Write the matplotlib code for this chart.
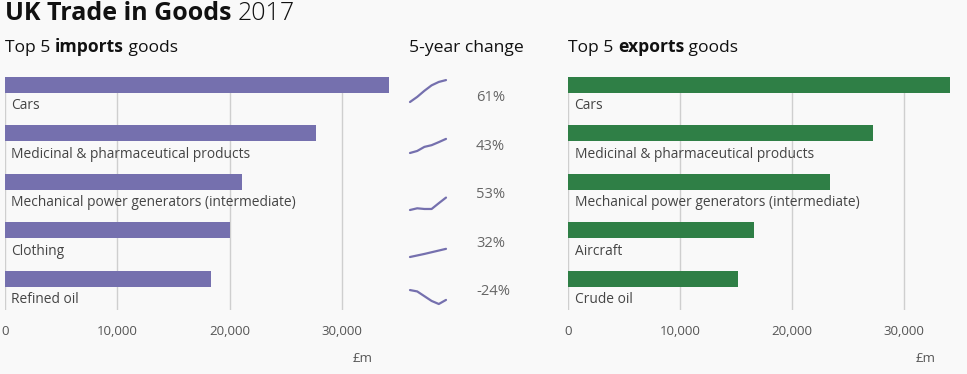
import matplotlib
matplotlib.use("Agg")
import matplotlib.pyplot as plt

# ---------------- data ----------------
import_goods = ["Cars", "Medicinal & pharmaceutical products",
                "Mechanical power generators (intermediate)", "Clothing", "Refined oil"]
import_values = [34150, 27650, 21100, 19990, 18330]

export_goods = ["Cars", "Medicinal & pharmaceutical products",
                "Mechanical power generators (intermediate)", "Aircraft", "Crude oil"]
export_values = [34050, 27230, 23370, 16580, 15180]

spark_years = [2012, 2013, 2014, 2015, 2016, 2017]
spark_cars = [21.2, 24.2, 27.8, 31.0, 33.0, 34.1]
spark_medicinal = [19.3, 20.5, 22.9, 23.9, 25.7, 27.6]
spark_mechanical = [13.8, 14.8, 14.4, 14.4, 17.8, 21.1]
spark_clothing = [15.1, 16.0, 16.9, 17.9, 18.9, 19.9]
spark_refined_oil = [24.1, 23.3, 20.5, 17.7, 15.9, 18.3]
sparklines = [spark_cars, spark_medicinal, spark_mechanical, spark_clothing, spark_refined_oil]
change_pct = [61, 43, 53, 32, -24]

x_ticks = [0, 10000, 20000, 30000]
x_tick_labels = ["0", "10,000", "20,000", "30,000"]

# ---------------- style ----------------
W, H = 967, 374
DPI = 100
BG = "#f9f9f9"
PURPLE = "#7570ae"
GREEN = "#2f7f46"
GRID = "#cfcfcf"
FONT = ["Open Sans", "DejaVu Sans"]
plt.rcParams["font.family"] = FONT

fig = plt.figure(figsize=(W / DPI, H / DPI), dpi=DPI, facecolor=BG)


def px_axes(x0, top, w, h):
    return fig.add_axes([x0 / W, 1 - (top + h) / H, w / W, h / H])


ROW = 48.5
BAR_TOP0 = 76.7
AX_BOTTOM = 310
row_top = -0.163
ylim_bottom = (AX_BOTTOM - BAR_TOP0) / ROW + row_top


def bar_panel(x0, px_per_k, goods, values, color):
    width_px = 35 * px_per_k
    ax = px_axes(x0, BAR_TOP0, width_px, AX_BOTTOM - BAR_TOP0)
    ax.set_facecolor("none")
    ypos = list(range(len(goods)))
    ax.barh(ypos, values, height=0.326, color=color, zorder=2)
    ax.set_xlim(0, 35000)
    ax.set_ylim(ylim_bottom, row_top)
    ax.set_xticks(x_ticks)
    ax.set_xticklabels(x_tick_labels)
    ax.set_yticks([])
    ax.grid(axis="x", color=GRID, linewidth=1, zorder=0)
    ax.set_axisbelow(True)
    for s in ax.spines.values():
        s.set_visible(False)
    ax.tick_params(axis="x", length=0, pad=10.5, labelsize=9.5, labelcolor="#555555")
    for y, name in zip(ypos, goods):
        ax.text(560, y + 0.44, name, va="center", ha="left", fontsize=9.9, color="#444444")
    return ax


bar_panel(5, 11.24, import_goods, import_values, PURPLE)
bar_panel(568.3, 11.2, export_goods, export_values, GREEN)

# £m unit labels
fig.text(373 / W, 1 - 358.5 / H, "£m", ha="right", va="center", fontsize=9.5, color="#555555")
fig.text(936 / W, 1 - 358.5 / H, "£m", ha="right", va="center", fontsize=9.5, color="#555555")

# sparklines
SPARK_K = 1.7  # px per £bn
spark_bottoms = [102, 153, 210, 257, 304]
for i, (vals, bottom) in enumerate(zip(sparklines, spark_bottoms)):
    lo, hi = min(vals), max(vals)
    h = (hi - lo) * SPARK_K
    ax = px_axes(410, bottom - h, 36, h)
    ax.plot(spark_years, vals, color=PURPLE, linewidth=1.6, clip_on=False,
            solid_capstyle="round", solid_joinstyle="round")
    ax.set_xlim(spark_years[0], spark_years[-1])
    ax.set_ylim(lo, hi)
    ax.axis("off")
    ycen = BAR_TOP0 + ROW * i + 21
    fig.text(476 / W, 1 - ycen / H, f"{change_pct[i]}%", ha="left", va="center",
             fontsize=10.6, color="#666666")


def chain(x_px, baseline_px, pieces, size, color="#111111"):
    first = fig.text(x_px / W, 1 - baseline_px / H, pieces[0][0], ha="left", va="baseline",
                     fontsize=size, fontweight=pieces[0][1], color=color)
    prev = first
    for txt, weight in pieces[1:]:
        prev = plt.annotate(txt, xy=(1, 0), xycoords=prev, ha="left", va="bottom",
                            fontsize=size, fontweight=weight, color=color,
                            annotation_clip=False)
    return first


chain(5, 20.5, [("UK Trade in Goods ", "bold"), ("2017", "light")], 18)
chain(5, 52.3, [("Top 5 ", "normal"), ("imports", "bold"), (" goods", "normal")], 12.6)
chain(568, 52.3, [("Top 5 ", "normal"), ("exports", "bold"), (" goods", "normal")], 12.6)
chain(409, 52.3, [("5-year change", "normal")], 12.6)

fig.savefig("out.png", dpi=DPI, facecolor=BG)
